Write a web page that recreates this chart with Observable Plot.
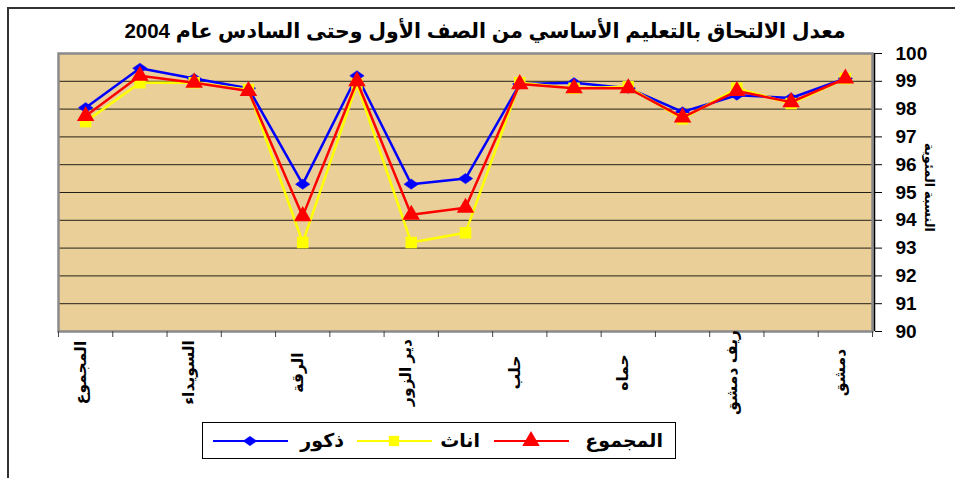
<!DOCTYPE html>
<html><head><meta charset="utf-8">
<script src="https://cdn.jsdelivr.net/npm/d3@7"></script>
<script src="https://cdn.jsdelivr.net/npm/@observablehq/plot@0.6"></script>
<style>
body{margin:0;background:#fff;}
#wrap{position:relative;width:955px;height:478px;overflow:hidden;font-family:"Liberation Sans","DejaVu Sans",sans-serif;font-weight:bold;}
#border{position:absolute;left:7px;top:7px;width:1000px;height:600px;border-left:2px solid #333;border-top:2px solid #333;}
#title{position:absolute;left:90px;width:790px;top:19px;text-align:center;direction:rtl;font-size:20.5px;color:#000;white-space:nowrap;}
#legend{position:absolute;left:202px;top:422px;width:472px;height:35px;border:1.5px solid #000;background:#fff;}
#legend svg{position:absolute;left:0;top:0;}
#chart{position:absolute;left:0;top:0;}
</style></head>
<body>
<div id="wrap">
  <div id="border"></div>
  <div id="chart"></div>
  <div id="title">معدل الالتحاق بالتعليم الأساسي من الصف الأول وحتى السادس عام 2004</div>
  <div id="legend"></div>
</div>
<script>
const categories = ["المجموع","القنيطرة","السويداء","درعا","الرقة","طرطوس","دير الزور","الحسكة","حلب","ادلب","حماه","اللاذقية","ريف دمشق","حمص","دمشق"];
const males   = [98.05, 99.47, 99.1, 98.75, 95.3, 99.2, 95.3, 95.5, 98.9, 98.95, 98.75, 97.9, 98.5, 98.4, 99.1];
const females = [97.55, 98.95, 98.95, 98.7, 93.2, 98.9, 93.2, 93.55, 98.95, 98.75, 98.8, 97.65, 98.75, 98.2, 99.1];
const totals  = [97.75, 99.2, 98.95, 98.65, 94.15, 99.0, 94.2, 94.45, 98.9, 98.75, 98.75, 97.7, 98.65, 98.25, 99.1];
const yTicks = [90,91,92,93,94,95,96,97,98,99,100];
const seriesNames = ["ذكور","اناث","المجموع"];
const seriesColors = ["#0000ff","#ffff00","#ff0000"];
const yTitle = "النسبة المئوية";

const font = '"Liberation Sans","DejaVu Sans",sans-serif';
const wideDiamond = {draw(ctx, size){ const r = Math.sqrt(size/Math.PI); ctx.moveTo(-r*1.2,0); ctx.lineTo(0,-r*0.85); ctx.lineTo(r*1.2,0); ctx.lineTo(0,r*0.85); ctx.closePath(); }};

const rows = (vals) => vals.map((v,i)=>({i, v, name: categories[i]}));
const M = rows(males), F = rows(females), T = rows(totals);
const boundaries = categories.map((d,i)=>i-0.5).concat([categories.length-0.5]);

const chart = Plot.plot({
  width: 955, height: 478,
  marginTop: 53, marginBottom: 147, marginLeft: 58, marginRight: 83,
  style: {fontFamily: font, fontWeight: "bold", background: "transparent", overflow: "visible"},
  x: {domain: [-0.5, categories.length-0.5], label: null},
  y: {domain: [90, 100], label: null},
  marks: [
    Plot.frame({fill: "#eacf98", stroke: null}),
    Plot.ruleY(yTicks.filter(v=>v>90&&v<100), {stroke: "#000", strokeWidth: 1, strokeOpacity: 0.85}),
    Plot.frame({stroke: "#8a8a8a", strokeWidth: 2.5}),
    Plot.ruleX([categories.length-0.5], {stroke: "#000", strokeWidth: 1.5, dx: 2}),
    Plot.axisX({ticks: boundaries, tickSize: 6, tickFormat: () => "", stroke: "#444", label: null}),
    Plot.text(categories.map((d,i)=>({i, d})).filter(o=>o.i%2===0), {x: "i", text: "d", frameAnchor: "bottom", dy: 41, rotate: -90, textAnchor: "middle", fontSize: 15.5, fontWeight: "bold", fill: "#000"}),
    Plot.axisY({anchor: "right", ticks: yTicks, tickSize: 7, tickPadding: 14, fontSize: 19, fontWeight: "bold", stroke: "#000", dx: 2, color: "#000", label: null}),
    Plot.text([yTitle], {frameAnchor: "right", dx: 57, dy: -5, rotate: 90, textAnchor: "middle", fontSize: 13, fontWeight: "bold", fill: "#000"}),
    Plot.line(M, {x: "i", y: "v", stroke: seriesColors[0], strokeWidth: 2.5}),
    Plot.dot(M, {x: "i", y: "v", symbol: wideDiamond, r: 6, fill: seriesColors[0], stroke: seriesColors[0], strokeWidth: 0.5}),
    Plot.line(F, {x: "i", y: "v", stroke: seriesColors[1], strokeWidth: 2.5}),
    Plot.dot(F, {x: "i", y: "v", symbol: "square", r: 6.5, fill: seriesColors[1], stroke: null}),
    Plot.line(T, {x: "i", y: "v", stroke: seriesColors[2], strokeWidth: 2.5}),
    Plot.dot(T, {x: "i", y: "v", symbol: "triangle", r: 6.5, fill: seriesColors[2], stroke: null})
  ]
});
document.getElementById("chart").appendChild(chart);

// legend
const lg = d3.select("#legend").append("svg").attr("width", 472).attr("height", 35);
const symbols = [d3.symbol(wideDiamond, Math.PI*36), d3.symbol(d3.symbolSquare, Math.PI*6.5*6.5*0.8), d3.symbol(d3.symbolTriangle, Math.PI*6.5*6.5)];
const lineX = [10, 154, 291];
const textX = [141, 277, 460];
seriesNames.forEach((n, k) => {
  const g = lg.append("g");
  g.append("line").attr("x1", lineX[k]).attr("x2", lineX[k]+75).attr("y1", 18).attr("y2", 18).attr("stroke", seriesColors[k]).attr("stroke-width", 2);
  g.append("path").attr("d", symbols[k]()).attr("transform", `translate(${lineX[k]+37},18)`).attr("fill", seriesColors[k]);
  g.append("text").attr("x", textX[k]).attr("y", 24).attr("text-anchor", "end").attr("font-size", 19).attr("font-weight", "bold").attr("font-family", font).text(n);
});
</script>
</body></html>
